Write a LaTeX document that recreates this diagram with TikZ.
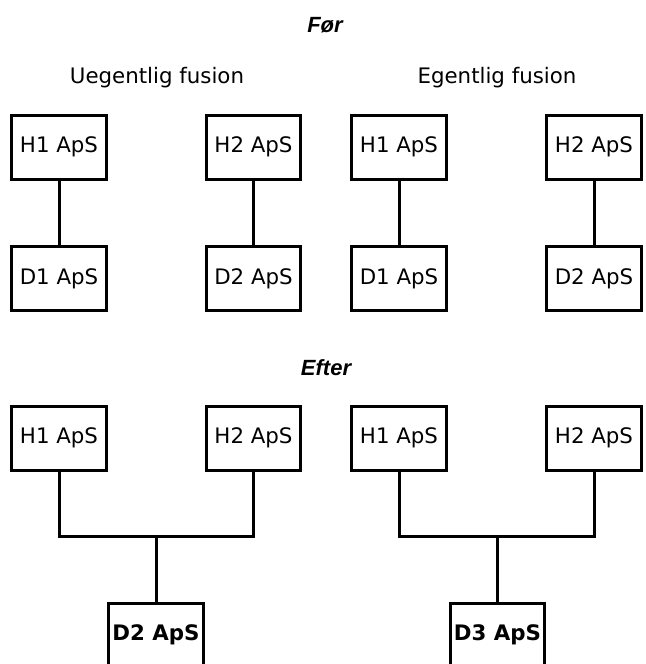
\documentclass[tikz,border=0pt]{standalone}
\usepackage{fontspec}
\setmainfont{DejaVu Sans}
\newfontfamily\titlefont{Liberation Sans}
\begin{document}
\begin{tikzpicture}[x=0.75pt, y=-0.75pt]

% Define the node styles
\tikzstyle{company}=[rectangle, draw, line width=2.25pt, minimum width=71pt, minimum height=48pt, inner sep=0pt, font=\fontsize{16}{18}\selectfont]
\tikzstyle{merged}=[company, font=\fontsize{16}{18}\selectfont\bfseries]
\tikzstyle{heading}=[font=\fontsize{16.5}{18}\selectfont\titlefont\bfseries\itshape]
\tikzstyle{label}=[font=\fontsize{16}{18}\selectfont]
\tikzstyle{link}=[line width=2.25pt]

\useasboundingbox (0,0) rectangle (646,664);

% Define the nodes
\node[heading] (before) at (325,25) {Før};
\node[label] (improper) at (157,78) {Uegentlig fusion};
\node[label] (proper) at (497,78) {Egentlig fusion};

\node[company] (uH1) at (59,147) {H1 ApS};
\node[company] (uH2) at (253.5,147) {H2 ApS};
\node[company] (uD1) at (59,278.5) {D1 ApS};
\node[company] (uD2) at (253.5,278.5) {D2 ApS};

\node[company] (eH1) at (399,147) {H1 ApS};
\node[company] (eH2) at (594,147) {H2 ApS};
\node[company] (eD1) at (399,278.5) {D1 ApS};
\node[company] (eD2) at (594,278.5) {D2 ApS};

\node[heading] (after) at (326,368) {Efter};

\node[company] (aH1) at (59,438) {H1 ApS};
\node[company] (aH2) at (253.5,438) {H2 ApS};
\node[merged] (aD2) at (156,635) {D2 ApS};
\coordinate (ajoin) at (156,536);

\node[company] (bH1) at (399,438) {H1 ApS};
\node[company] (bH2) at (594,438) {H2 ApS};
\node[merged] (bD3) at (497.5,635) {D3 ApS};
\coordinate (bjoin) at (497.5,536);

% Add the edges
\path[link] (uH1) edge (uD1)
          (uH2) edge (uD2)
          (eH1) edge (eD1)
          (eH2) edge (eD2)
          (ajoin) edge (aD2)
          (bjoin) edge (bD3);
\draw[link] (aH1) |- (ajoin) -| (aH2);
\draw[link] (bH1) |- (bjoin) -| (bH2);

\end{tikzpicture}
\end{document}
